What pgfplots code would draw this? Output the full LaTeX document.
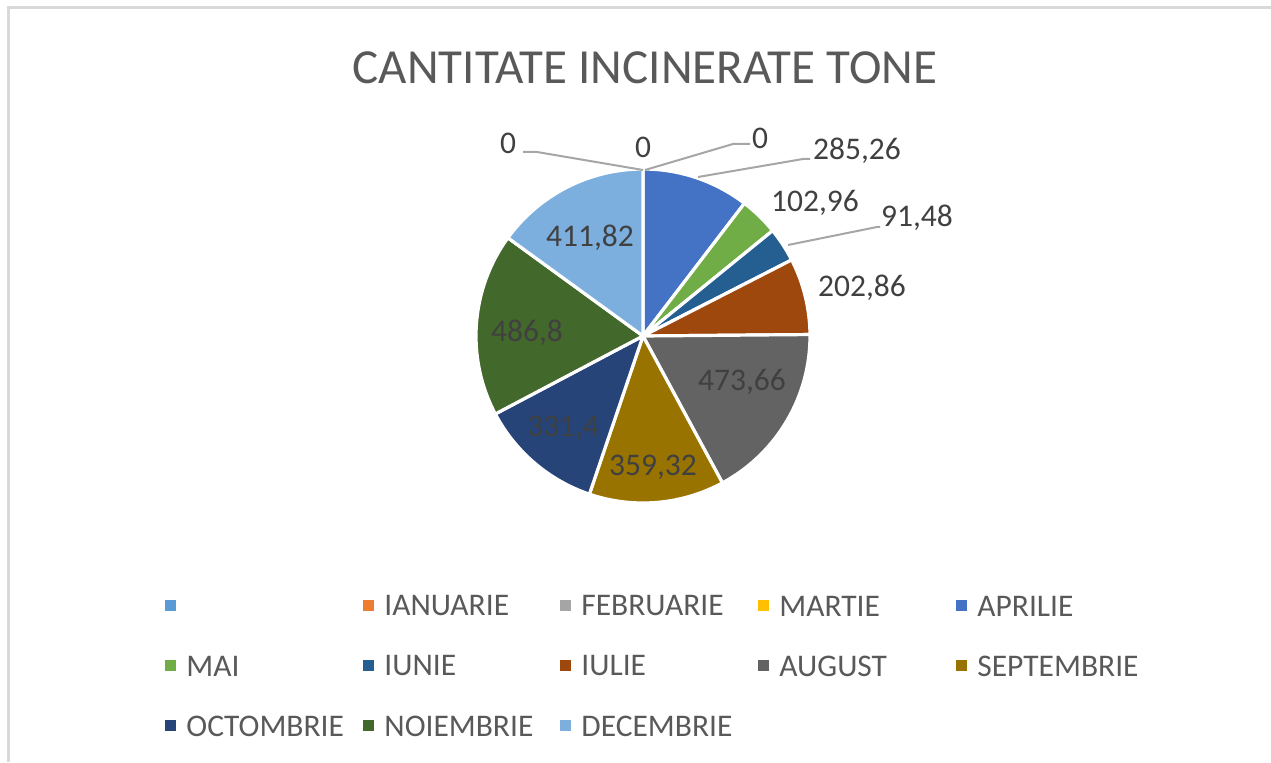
\documentclass[border=0pt]{standalone}
\usepackage{pgfplots}
\pgfplotsset{compat=1.18}
\usepackage{pgfplotstable}
\usepackage{fontspec}
\setmainfont{Carlito}

\definecolor{pc0}{HTML}{5B9BD5}
\definecolor{pc1}{HTML}{ED7D31}
\definecolor{pc2}{HTML}{A5A5A5}
\definecolor{pc3}{HTML}{FFC000}
\definecolor{pc4}{HTML}{4472C4}
\definecolor{pc5}{HTML}{70AD47}
\definecolor{pc6}{HTML}{255E91}
\definecolor{pc7}{HTML}{9E480E}
\definecolor{pc8}{HTML}{636363}
\definecolor{pc9}{HTML}{997300}
\definecolor{pc10}{HTML}{264478}
\definecolor{pc11}{HTML}{43682B}
\definecolor{pc12}{HTML}{7CAFDD}
\definecolor{txt}{HTML}{595959}
\definecolor{lbl}{HTML}{404040}
\definecolor{lead}{HTML}{A6A6A6}
\definecolor{frame}{HTML}{D9D9D9}

% value per month (first row is the unnamed category), label position in px
\pgfplotstableread{
value  lx   ly
0      -1   -1
0      508  619
0      643  615
0      760  624
285.26 857  611
102.96 815  559
91.48  917  544
202.86 862  474
473.66 742  380
359.32 653  295
331.4  563  334
486.8  527  429
411.82 590  524
}\piedata

\begin{document}
\begin{tikzpicture}
\begin{axis}[
  scale only axis, width=635.5pt, height=381pt,
  xmin=0, xmax=1271, ymin=0, ymax=762,
  hide axis, clip=false,
]
% chart frame (top and left edges visible)
\draw[frame, line width=1.5pt]
  (axis cs:1271,754) -- (axis cs:8,754) -- (axis cs:8,0);

\node[text=txt, font=\fontsize{24.5}{28}\selectfont] at (axis cs:645,694) {CANTITATE INCINERATE TONE};

\pgfplotsextra{%
  \xdef\total{0}%
  \foreach \i in {0,...,12}{%
    \pgfplotstablegetelem{\i}{value}\of\piedata
    \pgfmathsetmacro\t{\total+\pgfplotsretval}\xdef\total{\t}%
  }%
  \xdef\cum{0}%
  \foreach \i in {0,...,12}{%
    \pgfplotstablegetelem{\i}{value}\of\piedata \let\v\pgfplotsretval
    \pgfmathsetmacro\a{90-\cum/\total*360}%
    \pgfmathsetmacro\b{90-(\cum+\v)/\total*360}%
    \ifdim \v pt>0pt
      \filldraw[fill=pc\i, draw=white, line width=1.6pt, line join=round]
        (axis cs:643,426) -- ++(\a:83.5pt) arc[start angle=\a, end angle=\b, radius=83.5pt] -- cycle;
    \fi
    \pgfmathsetmacro\c{\cum+\v}\xdef\cum{\c}%
  }%
  % leader lines
  \draw[lead, line width=1pt] (axis cs:523,610) -- (axis cs:537,610) -- (axis cs:643,592);
  \draw[lead, line width=1pt] (axis cs:750,618) -- (axis cs:733,618) -- (axis cs:645,592);
  \draw[lead, line width=1pt] (axis cs:810,603) -- (axis cs:803,603) -- (axis cs:698,585);
  \draw[lead, line width=1pt] (axis cs:880,535) -- (axis cs:877,535) -- (axis cs:788,517);
  % data labels
  \foreach \i in {1,...,12}{%
    \pgfplotstablegetelem{\i}{value}\of\piedata \let\v\pgfplotsretval
    \pgfplotstablegetelem{\i}{lx}\of\piedata \let\lx\pgfplotsretval
    \pgfplotstablegetelem{\i}{ly}\of\piedata \let\ly\pgfplotsretval
    \node[text=lbl, font=\fontsize{15.75}{18}\selectfont] at (axis cs:\lx,\ly)
      {\pgfmathprintnumber[use comma, assume math mode=true]{\v}};
  }%
  % legend
  \foreach \i/\nm/\px/\py in {0//170/156, 1/IANUARIE/368/156, 2/FEBRUARIE/565/156,
      3/MARTIE/763/156, 4/APRILIE/961/156, 5/MAI/170/96, 6/IUNIE/368/96,
      7/IULIE/565/96, 8/AUGUST/763/96, 9/SEPTEMBRIE/961/96,
      10/OCTOMBRIE/170/36, 11/NOIEMBRIE/368/36, 12/DECEMBRIE/565/36}{%
    \fill[pc\i] (axis cs:\px-5.5,\py-5.5) rectangle (axis cs:\px+5.5,\py+5.5);
    \node[anchor=west, text=txt, inner sep=0pt, font=\fontsize{15.75}{18}\selectfont]
      at (axis cs:\px+16,\py) {\nm};
  }%
}
\end{axis}
\pgfresetboundingbox
\path[use as bounding box] (current axis.south west) rectangle (current axis.north east);
\end{tikzpicture}
\end{document}
